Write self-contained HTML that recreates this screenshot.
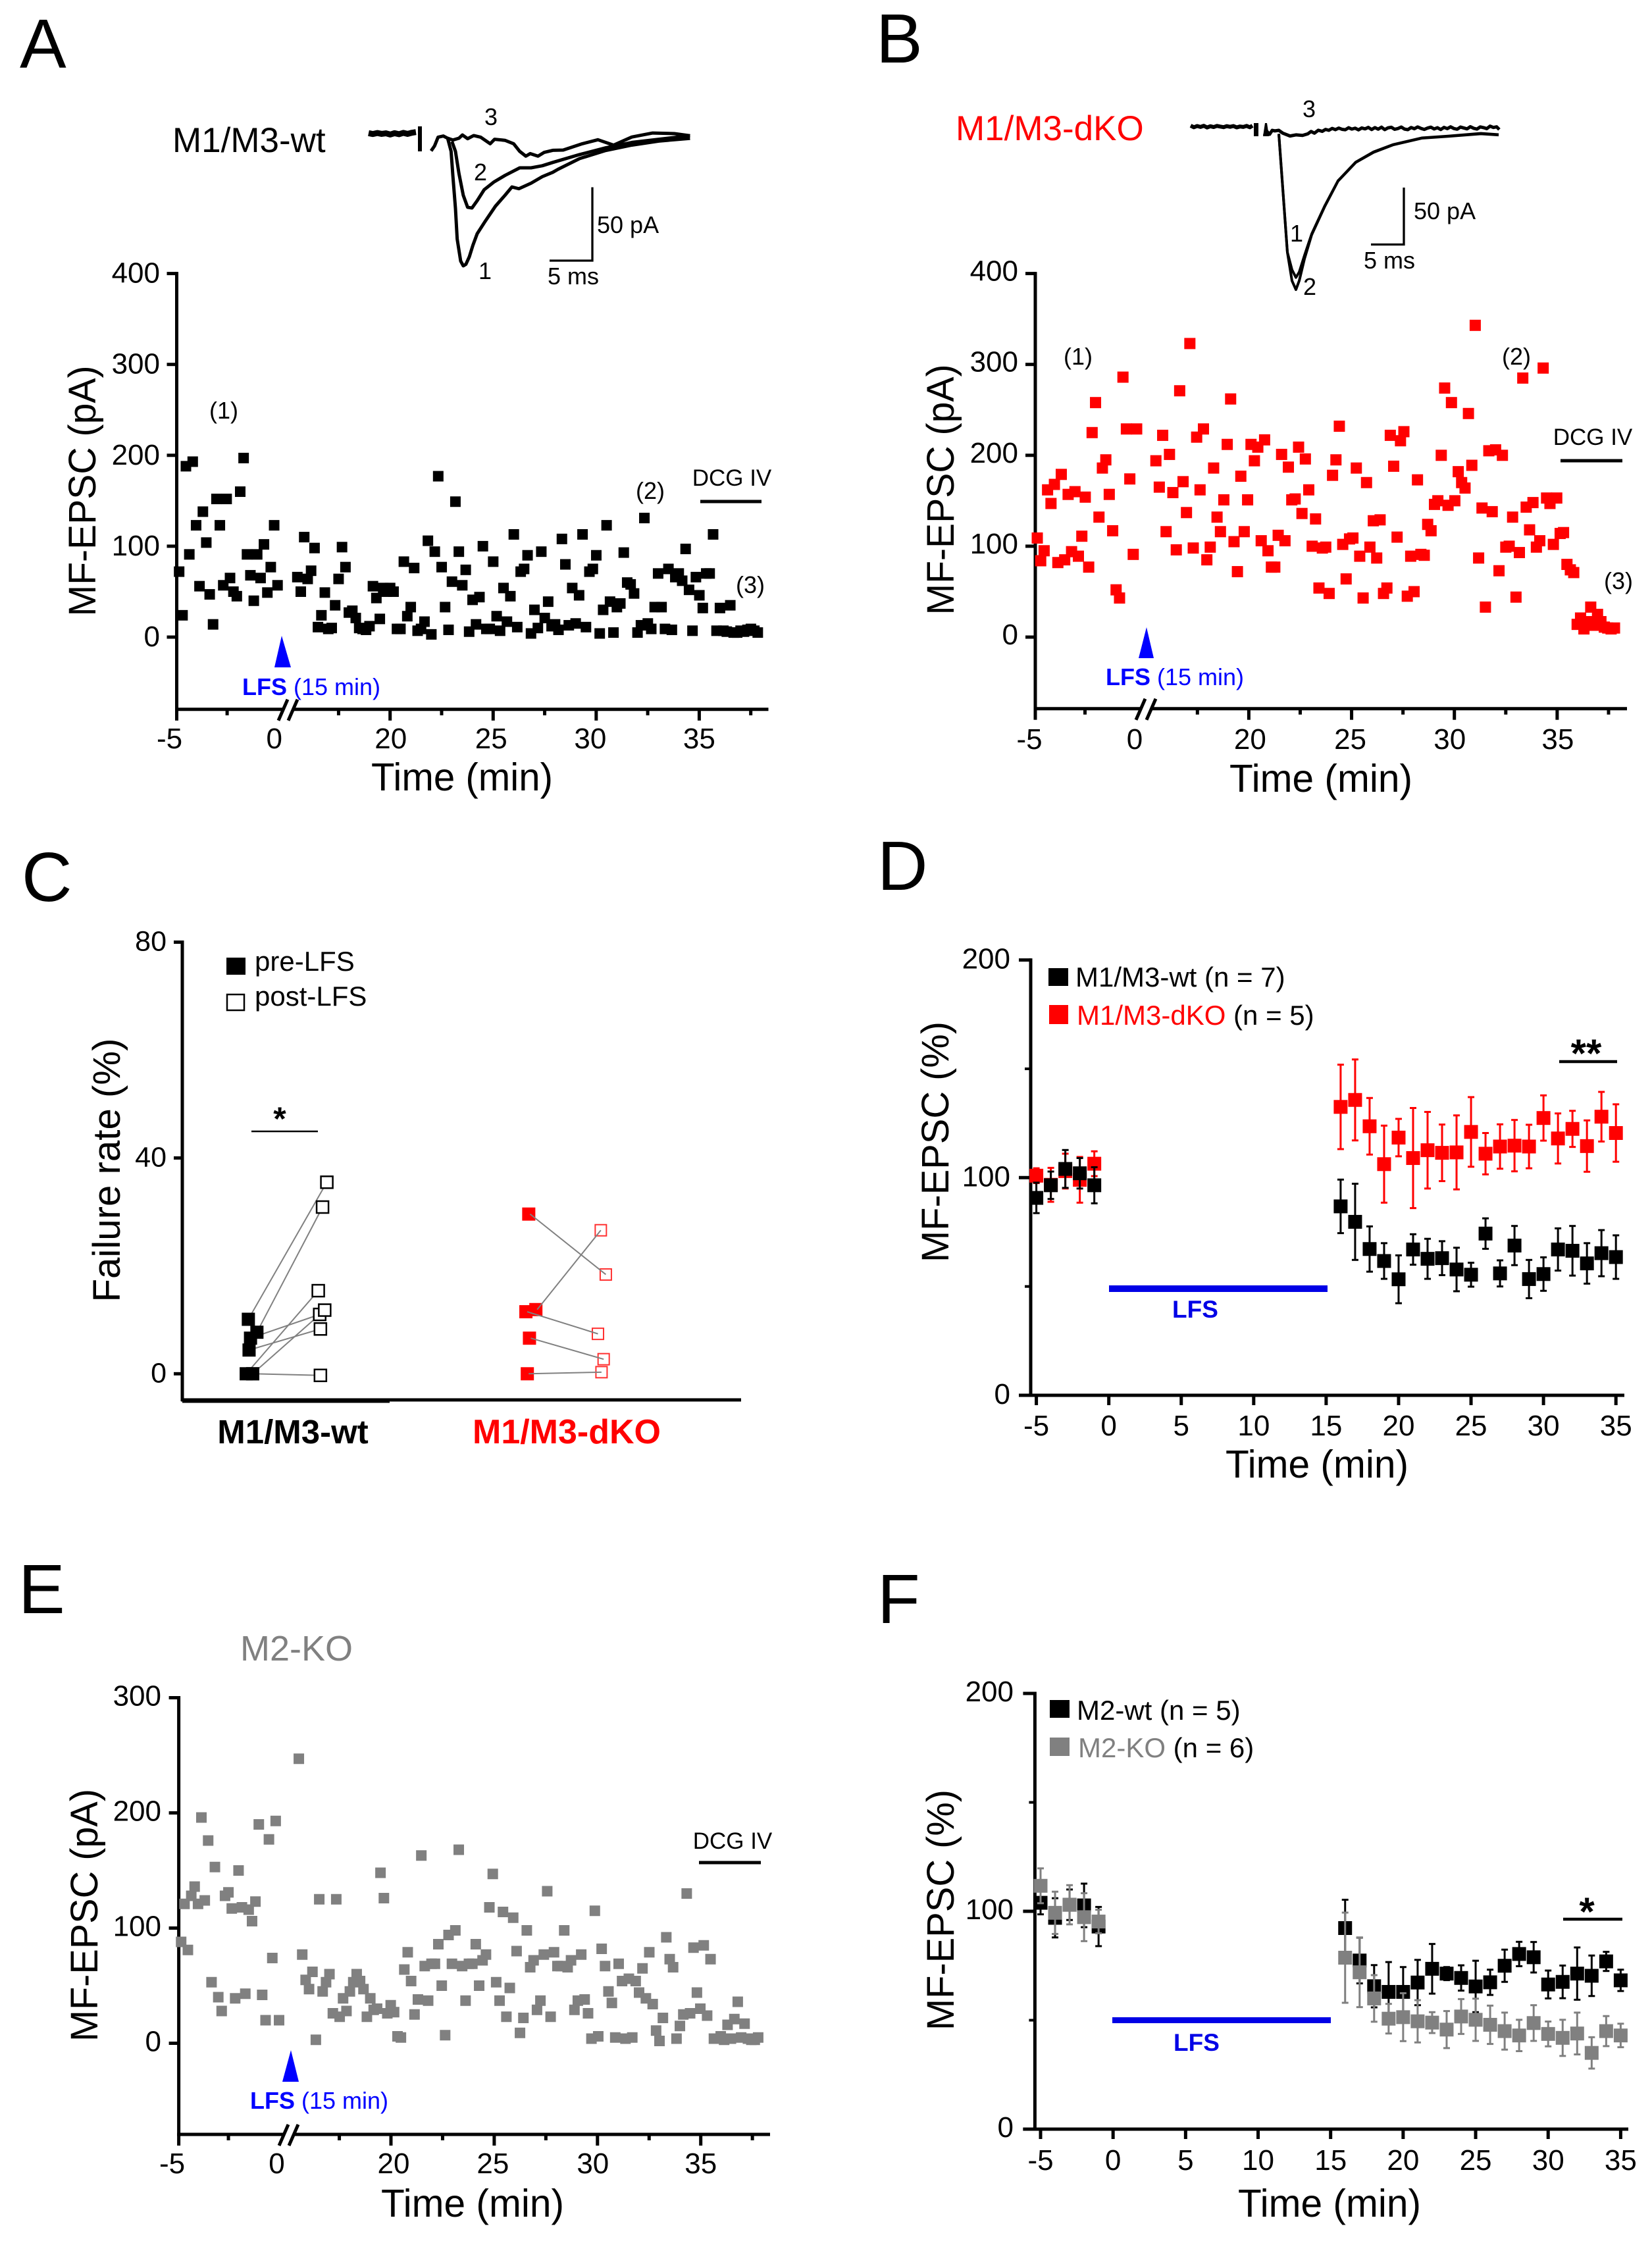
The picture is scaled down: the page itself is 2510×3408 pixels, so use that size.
<!DOCTYPE html>
<html lang="en">
<head>
<meta charset="utf-8">
<title>MF-EPSC figure</title>
<style>
html,body{margin:0;padding:0;background:#fff;}
svg{display:block;}
text{font-family:"Liberation Sans",Arial,sans-serif;fill:#000;}
</style>
</head>
<body>
<svg id="fig" xmlns="http://www.w3.org/2000/svg" width="2510" height="3408" viewBox="0 0 2510 3408">
<rect width="2510" height="3408" fill="#fff"/>

<g id="panel-a">
<text x="30" y="103" font-size="106">A</text>
<text x="262" y="231" font-size="53">M1/M3-wt</text>
<line x1="638" y1="192" x2="638" y2="230" stroke="#000" stroke-width="6"/>
<text x="746" y="190" font-size="36" text-anchor="middle">3</text>
<text x="730" y="274" font-size="36" text-anchor="middle">2</text>
<text x="737" y="424" font-size="36" text-anchor="middle">1</text>
<path d="M835 396H900V284.5" fill="none" stroke="#000" stroke-width="3.3"/>
<text x="907" y="354" font-size="36">50 pA</text>
<text x="871" y="432" font-size="36" text-anchor="middle">5 ms</text>
<text transform="translate(145,746) rotate(-90)" font-size="58" text-anchor="middle" textLength="381" lengthAdjust="spacingAndGlyphs">MF-EPSC (pA)</text>
<text x="702" y="1201" font-size="59" text-anchor="middle" textLength="276" lengthAdjust="spacingAndGlyphs">Time (min)</text>
<text x="340" y="636" font-size="36" text-anchor="middle">(1)</text>
<text x="988" y="758" font-size="36" text-anchor="middle">(2)</text>
<text x="1140" y="901" font-size="36" text-anchor="middle">(3)</text>
<text x="1112" y="738" font-size="35" text-anchor="middle">DCG IV</text>
<line x1="1064" y1="762" x2="1157" y2="762" stroke="#000" stroke-width="5"/>
<polygon points="428,966 417,1014 442,1014" fill="#0000ff"/>
<text x="368" y="1056" font-size="36" style="fill:#0000ff"><tspan font-weight="bold" style="fill:#0000ff">LFS</tspan> (15 min)</text>
</g>

<g id="panel-b">
<text x="1331" y="95" font-size="106">B</text>
<text x="1452" y="213" font-size="53" style="fill:#ff0000">M1/M3-dKO</text>
<rect x="1905" y="187" width="7" height="20" fill="#000"/>
<polygon points="1919,207 1922,187 1925,187 1928,207" fill="#000"/>
<text x="1989" y="178" font-size="36" text-anchor="middle">3</text>
<text x="1970" y="367" font-size="36" text-anchor="middle">1</text>
<text x="1990" y="448" font-size="36" text-anchor="middle">2</text>
<path d="M2083 371.5H2133V285" fill="none" stroke="#000" stroke-width="3.3"/>
<text x="2148" y="333" font-size="36">50 pA</text>
<text x="2111" y="408" font-size="36" text-anchor="middle">5 ms</text>
<text transform="translate(1449,744) rotate(-90)" font-size="58" text-anchor="middle" textLength="381" lengthAdjust="spacingAndGlyphs">MF-EPSC (pA)</text>
<text x="2007" y="1203" font-size="59" text-anchor="middle" textLength="278" lengthAdjust="spacingAndGlyphs">Time (min)</text>
<text x="1638" y="554" font-size="36" text-anchor="middle">(1)</text>
<text x="2304" y="554" font-size="36" text-anchor="middle">(2)</text>
<text x="2459" y="895" font-size="36" text-anchor="middle">(3)</text>
<text x="2420" y="676" font-size="35" text-anchor="middle">DCG IV</text>
<line x1="2371" y1="700" x2="2465" y2="700" stroke="#000" stroke-width="5"/>
<polygon points="1742,953 1730,1000 1753,1000" fill="#0000ff"/>
<text x="1680" y="1041" font-size="36" style="fill:#0000ff"><tspan font-weight="bold" style="fill:#0000ff">LFS</tspan> (15 min)</text>
</g>

<g id="panel-c">
<text x="33" y="1369" font-size="106">C</text>
<text transform="translate(182,1778) rotate(-90)" font-size="58" text-anchor="middle" textLength="401" lengthAdjust="spacingAndGlyphs">Failure rate (%)</text>
<rect x="344" y="1455" width="29" height="26" fill="#000"/>
<text x="387" y="1475" font-size="42">pre-LFS</text>
<rect x="345" y="1511" width="26" height="24" fill="#fff" stroke="#000" stroke-width="2.5"/>
<text x="387" y="1528" font-size="42">post-LFS</text>
<text x="425" y="1717" font-size="50" font-weight="bold" text-anchor="middle">*</text>
<line x1="382" y1="1719" x2="483" y2="1719" stroke="#000" stroke-width="2.5"/>
<text x="445" y="2193" font-size="51" font-weight="bold" text-anchor="middle">M1/M3-wt</text>
<text x="861" y="2193" font-size="52" font-weight="bold" text-anchor="middle" style="fill:#ff0000">M1/M3-dKO</text>
</g>

<g id="panel-d">
<text x="1333" y="1352" font-size="106">D</text>
<text transform="translate(1441,1735) rotate(-90)" font-size="58" text-anchor="middle" textLength="366" lengthAdjust="spacingAndGlyphs">MF-EPSC (%)</text>
<text x="2001" y="2245" font-size="59" text-anchor="middle" textLength="278" lengthAdjust="spacingAndGlyphs">Time (min)</text>
<rect x="1593" y="1471" width="30" height="27" fill="#000"/>
<text x="1634" y="1499" font-size="42">M1/M3-wt (n = 7)</text>
<rect x="1594" y="1527" width="29" height="29" fill="#ff0000"/>
<text x="1636" y="1557" font-size="42"><tspan style="fill:#ff0000">M1/M3-dKO</tspan> (n = 5)</text>
<text x="2410" y="1621" font-size="60" font-weight="bold" text-anchor="middle">**</text>
<line x1="2369" y1="1613" x2="2457" y2="1613" stroke="#000" stroke-width="4.5"/>
<rect x="1685" y="1953" width="332" height="10" fill="#0000e6"/>
<text x="1816" y="2002" font-size="37" font-weight="bold" text-anchor="middle" style="fill:#0000e6">LFS</text>
</g>

<g id="panel-e">
<text x="28" y="2451" font-size="106">E</text>
<text x="365" y="2523" font-size="54" style="fill:#808080">M2-KO</text>
<text transform="translate(148,2910) rotate(-90)" font-size="58" text-anchor="middle" textLength="384" lengthAdjust="spacingAndGlyphs">MF-EPSC (pA)</text>
<text x="718" y="3368" font-size="59" text-anchor="middle" textLength="278" lengthAdjust="spacingAndGlyphs">Time (min)</text>
<text x="1113" y="2809" font-size="35" text-anchor="middle">DCG IV</text>
<line x1="1062" y1="2830" x2="1156" y2="2830" stroke="#000" stroke-width="5"/>
<polygon points="442,3115 429,3163 454,3163" fill="#0000ff"/>
<text x="380" y="3204" font-size="36" style="fill:#0000ff"><tspan font-weight="bold" style="fill:#0000ff">LFS</tspan> (15 min)</text>
</g>

<g id="panel-f">
<text x="1333" y="2466" font-size="106">F</text>
<text transform="translate(1449,2902) rotate(-90)" font-size="58" text-anchor="middle" textLength="366" lengthAdjust="spacingAndGlyphs">MF-EPSC (%)</text>
<text x="2020" y="3368" font-size="59" text-anchor="middle" textLength="278" lengthAdjust="spacingAndGlyphs">Time (min)</text>
<rect x="1595" y="2583" width="30" height="27" fill="#000"/>
<text x="1636" y="2613" font-size="42">M2-wt (n = 5)</text>
<rect x="1595" y="2640" width="30" height="28" fill="#808080"/>
<text x="1638" y="2670" font-size="42"><tspan style="fill:#808080">M2-KO</tspan> (n = 6)</text>
<text x="2411" y="2925" font-size="60" font-weight="bold" text-anchor="middle">*</text>
<line x1="2375" y1="2916" x2="2465" y2="2916" stroke="#000" stroke-width="4.5"/>
<rect x="1690" y="3065" width="332" height="9" fill="#0000e6"/>
<text x="1818" y="3116" font-size="37" font-weight="bold" text-anchor="middle" style="fill:#0000e6">LFS</text>
</g>
</svg>

<script>
// ---------- Panel A data (pA) ----------
const aPreValues=[72,24,188,91,193,123,56,138,104,47,14,152,123,57,152,65,50,45,160,197,91,68,40,91,65,102,49,77,123,57];
const aPostValues=[66,50,110,64,73,98,11,24,49,9,10,35,64,99,77,27,29,21,10,9,8,12,56,43,20,54,50,54,50,9,9,83,23,33,76,7,9,17,106,3,94,177,77,33,8,61,149,94,57,74,6,41,14,44,100,9,9,83,23,7,54,17,45,113,11,72,75,90,4,30,10,94,21,39,12,14,8,108,80,13,54,15,46,113,11,72,75,90,4,30,123,39,5,33,37,93,60,58,48,5,13,131,15,9,33,70,33,9,75,8,66,70,62,97,52,7,66,46,32,70,70,113,7,32,7,6,35,5,5,7,6,8,9,7,5];
const aPreSpan=[-4.88,0];
const aPostSpan=[15.5,37.84];
const aTrace1Ms=[7.2,7.6,8,8.6,9.1,9.5,9.7,10,10.2,10.6,10.9,11.2,11.6,12,12.5,13.4,14.6,15.7,16.5,17.3,18.7,20,21.2,21.8,24.3,27.3,30.3,33.4,37];
const aTrace1Pa=[-11.6,-8.2,-2.4,-1.6,-3.1,-11.9,-28,-50,-70.6,-85.3,-88.5,-87.5,-82.4,-74.9,-67,-58.9,-48.6,-41.3,-35.7,-36.9,-33.2,-28.8,-25.9,-23.9,-16.7,-11.3,-7.7,-5,-3.2];
const aTrace2Ms=[9.6,10,10.4,10.9,11.4,11.9,12.5,13.3,14.4,15.7,17.4,18.7,20,21.2,24.3,27.3,30.3,33.4,37];
const aTrace2Pa=[-5.3,-11.9,-26.6,-41.3,-49.3,-49.8,-44.9,-37.6,-32.5,-28,-22.9,-22.9,-21.5,-19.3,-14,-9.5,-5.9,-3.8,-1.4];
const aTrace3Ms=[9.1,9.7,10.4,10.8,11.4,12.1,12.9,14,14.5,15.7,16.7,17.4,18.1,18.6,19.5,20.2,21.2,22.4,24.6,26.4,28.2,30.3,32.7,35.2,37];
const aTrace3Pa=[-3.1,-4.3,-3.1,-0.9,-3.4,-1.3,-2.4,-6.8,-3.8,-4.5,-6.8,-11.9,-15.1,-13.4,-15.1,-12.6,-11.2,-11,-6.8,-4.1,-7.7,-2.3,0.4,0,-1.4];
const aBaseMs=[0,0.5,1,1.5,2,2.5,3,3.5,4,4.5,5,5.45];
const aBasePa=[0.3,-0.3,0.4,-0.2,0.2,-0.6,0.3,-0.4,0.5,-0.2,0.6,1];

// ---------- Panel B data (pA) ----------
const bPreValues=[109,84,95,162,147,168,82,179,85,157,94,160,89,111,154,77,225,258,132,186,195,157,117,52,43,286,229,174,91,229];
const bPostValues=[194,165,222,116,201,159,96,271,171,137,323,98,220,162,229,85,99,186,132,116,151,212,262,105,72,177,116,151,212,194,209,106,217,95,77,77,112,201,106,187,151,152,209,136,196,162,100,130,54,98,99,48,178,195,232,102,64,108,109,186,89,43,170,99,128,87,129,48,54,222,188,110,216,226,45,89,50,173,91,90,124,117,146,150,200,274,145,258,150,182,170,164,246,189,343,87,142,33,205,138,206,73,200,99,100,132,44,93,285,143,118,148,99,106,296,153,147,102,153,114,115,80,74,71,14,21,9,17,33,13,25,17,11,10,9,10];
const bPreSpan=[-4.9,0.1];
const bPostSpan=[15.48,37.79];
const bBigMs=[13.4,14.7,15.4,16,16.5,17.3,18.4,20.4,22.4,25.1,27.8,30.8,35.1,39.1,44.1,46.8];
const bBigPa=[-6.6,-111.2,-136.4,-144.2,-136.4,-117,-95.7,-70.5,-48.3,-31.8,-23,-16.3,-10.5,-8.9,-6.6,-7.6];
const bMidMs=[13.4,14.7,15.4,16,16.5,17.3,18.4,20.4,22.4,25.1,27.8,30.8,35.1,39.1,44.1,46.8];
const bMidPa=[-6.6,-111.2,-126.7,-133.5,-128.7,-114,-95,-70,-48,-31.5,-22.5,-16,-10.2,-8.6,-6.2,-7.3];
const bBaseMs=[0,0.5,1,1.5,2,2.5,3,3.5,4,4.5,5,5.5,6,6.5,7,7.5,8,8.5,9,9.4];
const bBasePa=[0.6,-0.8,0.3,-0.5,0.5,-1,0.1,-0.6,0.4,-0.2,-0.7,0.2,-0.4,0.3,-0.9,-0.1,-0.5,0.4,-0.8,0.6];
const bSmallMs=[11.2,11.6,12,12.4,12.8,13.4,14,15.1,16,17,17.8,18.3,18.8,19.4,20,20.5,21,21.5,22,22.5,23,23.5,24,24.5,25,25.5,26,26.5,27,27.5,28,28.5,29,29.5,30,30.5,31,31.5,32,32.5,33,33.5,34,34.5,35,35.5,36,36.5,37,37.5,38,38.5,39,39.5,40,40.5,41,41.5,42,42.5,43,43.5,44,44.5,45,45.5,46,46.5,46.9];
const bSmallPa=[-8,-4.5,-7,-3.5,-4,-3.5,-6,-8.5,-7.5,-8,-6.6,-4.5,-6,-3.4,-4.4,-2.7,-3.5,-1.8,-2.9,-1.5,-2.6,-3,-1.2,-2.4,-1.6,-3.1,-1.4,-2.2,-0.9,-2.8,-1.1,-2.5,-0.7,-2.9,-1.3,-0.8,-2.6,-1.9,-0.6,-2.4,-2.9,-1,-2.1,-0.5,-1.8,-2.7,-1.5,-0.7,-2.3,-1.2,-2.8,-0.9,-2,-0.4,-1.9,-2.5,-0.6,-1.4,-2.2,-0.3,-1.7,-2.4,-0.5,-1.1,-2,0.2,-1,-0.4,-2.8];

// ---------- Panel C data (%) ----------
const cCategoryPositions=[1,2,5,6];
const cWtPre=[10.1,7.7,6.6,4.4,0,0,0];
const cWtPreJitter=[0.97,1.09,1.0,0.98,0.94,1.03,1.03];
const cWtPost=[35.5,30.9,11,8.3,15.4,11.8,-0.3];
const cWtPostJitter=[2.07,2.01,1.97,1.98,1.95,2.04,1.98];
const cKoPre=[29.6,11.9,11.5,6.6,0];
const cKoPreJitter=[4.9,5,4.86,4.91,4.88];
const cKoPost=[18.4,26.6,7.4,2.7,0.3];
const cKoPostJitter=[5.98,5.91,5.87,5.95,5.92];
const cYTicks=[0,40,80];

// ---------- Panel D data (%) ----------
const dTimes=[-5,-4,-3,-2,-1,16,17,18,19,20,21,22,23,24,25,26,27,28,29,30,31,32,33,34,35];
const dWtMean=[90.7,96.5,104,102,96.5,86.8,79.7,67.2,61.7,53.3,67,62.7,63,57.8,55.4,74.3,56,68.8,53.4,55.7,67,66.4,60.6,65.3,63.5];
const dWtErr=[7,6.3,8.7,7,8.3,12.3,17.5,10.4,8.2,11,7,9.2,7.8,10,5.5,7,6,9,8.8,7.7,9.7,11.4,9.3,10.6,10];
const dKoMean=[100.9,96.7,103,99,106.4,132.5,135.7,123.6,106.2,118.4,109,112.6,111.4,111.6,121,111,114.3,114.7,114.3,127.4,118,122.4,114.5,128,120.5];
const dKoErr=[3.4,7.8,8,10.5,5.7,19.4,18.6,13,17.7,8.6,23,17.6,13,17,16,9.5,10.2,11.8,10,10.4,11.5,8.3,11.8,11.4,13.2];

// ---------- Panel E data (pA) ----------
const ePreValues=[88,121,81,128,136,121,196,124,176,53,153,40,28,128,131,117,39,150,118,43,116,106,123,190,42,20,177,74,193,20];
const ePostValues=[247,77,55,47,62,3,125,45,53,60,26,125,23,39,28,45,53,60,54,47,23,39,29,30,148,126,26,33,27,6,5,64,79,54,25,38,163,67,37,69,69,86,50,7,94,69,98,168,67,37,69,69,86,50,72,77,118,147,53,37,114,23,48,109,80,9,22,98,66,72,29,37,77,132,23,79,67,67,98,66,72,29,37,77,38,26,4,115,6,82,67,45,35,5,69,54,4,56,5,54,44,65,39,79,34,11,2,22,92,73,66,4,15,25,130,26,83,44,30,85,24,73,4,4,6,3,16,4,21,36,5,17,4,3,3,5];
const ePreSpan=[-4.88,0.05];
const ePostSpan=[15.54,37.78];

// ---------- Panel F data (%) ----------
const fTimes=[-5,-4,-3,-2,-1,16,17,18,19,20,21,22,23,24,25,26,27,28,29,30,31,32,33,34,35];
const fWtMean=[103.9,97,103,102.7,93,92.3,77.4,65.6,63,63,67.3,73.6,71.4,69.4,65.5,67.4,75,80.4,78.9,66.4,67.6,71.4,70.4,77,68.3];
const fWtErr=[5.3,9,7,10,9,13,10.5,9.7,13.7,11.4,10.4,11.4,3,5.8,11.8,5.8,7.4,5.6,7,6.4,7.5,12,9.3,4.4,4.9];
const fKoMean=[111.7,99.3,103,97.3,95.3,78.7,72,60,50.7,51.4,49.5,48.9,45.7,51.7,50.2,47.9,45,43,48.7,43.7,41.9,43.9,35,45,43];
const fKoErr=[8,9.7,9,11,5.4,20.7,16,10.7,6.8,11,9.7,4.8,8.5,8,9.7,8.8,8.5,7.2,8.2,5.7,8.3,9.6,7.2,6.9,5.4];

// ---------- Axis tick values and labels ----------
const pa400Ticks=[0,100,200,300,400];
const pa300Ticks=[0,100,200,300];
const pctMajorTicks=[0,100,200];
const pctMinorTicks=[50,150];
const brokenMajorTicks=[-5,20,25,30,35];
const brokenMinorTicks=[-2.5,17.5,22.5,27.5,32.5,37.5];
const brokenTickLabels=['-5','0','20','25','30','35'];
const brokenTickLabelTimes=[-5,0,20,25,30,35];
const linearTicks=[-5,0,5,10,15,20,25,30,35];

// ---------- Helpers ----------
const NS='http://www.w3.org/2000/svg';
const AXIS_W=5;
function mk(parent,tag,attrs,name){
  const el=document.createElementNS(NS,tag);
  for(const k in attrs){el.setAttribute(k,attrs[k]);}
  
  
  parent.appendChild(el);
  return el;
}
function line(p,x1,y1,x2,y2,stroke,w,name){return mk(p,'line',{x1:x1,y1:y1,x2:x2,y2:y2,stroke:stroke,'stroke-width':w},name);}
function square(p,cx,cy,s,fill,name,stroke,sw){
  return mk(p,'rect',{x:cx-s/2,y:cy-s/2,width:s,height:s,fill:fill,stroke:stroke||'none','stroke-width':sw||0},name);
}
function txt(p,x,y,str,size,anchor,name){
  const el=mk(p,'text',{x:x,y:y,'font-size':size,'text-anchor':anchor},name);
  el.textContent=str;
  return el;
}
function linear(d0,r0,d1,r1){return v=>r0+(v-d0)*(r1-r0)/(d1-d0);}
function brokenScale(xm5,x0,x20,x35){
  return t=>t<=7.5?xm5+(t+5)*(x0-xm5)/5:x20+(t-20)*(x35-x20)/15;
}
function trace(p,msArr,paArr,xS,yS,w,name){
  const pts=msArr.map((m,i)=>xS(m)+','+yS(paArr[i])).join(' ');
  return mk(p,'polyline',{points:pts,fill:'none',stroke:'#000','stroke-width':w,'stroke-linejoin':'round'},name);
}
function scatter(p,values,span,xS,yS,size,fill,name){
  const step=(span[1]-span[0])/(values.length-1);
  values.forEach((v,i)=>{
    square(p,xS(span[0]+i*step),yS(v),size,fill,name);
  });
}
function yAxisDraw(p,cfg){
  line(p,cfg.x,cfg.top-2.5,cfg.x,cfg.bottom+2.5,'#000',AXIS_W,'y-axis-line');
  cfg.ticks.forEach(v=>{
    line(p,cfg.x-cfg.major,cfg.y(v),cfg.x,cfg.y(v),'#000',AXIS_W,'y-axis-tick');
    txt(p,cfg.labelRight,cfg.y(v)+cfg.labelDy,String(v),44,'end','y-tick-label');
  });
  (cfg.minor||[]).forEach(v=>{
    line(p,cfg.x-cfg.minorLen,cfg.y(v),cfg.x,cfg.y(v),'#000',4,'y-axis-minor-tick');
  });
}
function brokenXAxis(p,cfg){
  line(p,cfg.axisX-2.5,cfg.base,cfg.right,cfg.base,'#000',AXIS_W,'x-axis-line');
  brokenMajorTicks.forEach(t=>{
    line(p,cfg.x(t),cfg.base,cfg.x(t),cfg.base+17,'#000',AXIS_W,'x-axis-tick');
  });
  brokenMinorTicks.forEach(t=>{
    line(p,cfg.x(t),cfg.base,cfg.x(t),cfg.base+9,'#000',AXIS_W,'x-axis-minor-tick');
  });
  line(p,cfg.brk[0]+7,cfg.base,cfg.brk[0]+cfg.brk[1]+7,cfg.base,'#fff',7,'axis-break-gap');
  line(p,cfg.brk[0],cfg.base+17,cfg.brk[0]+14,cfg.base-15,'#000',AXIS_W,'axis-break-slash');
  line(p,cfg.brk[0]+cfg.brk[1],cfg.base+17,cfg.brk[0]+cfg.brk[1]+14,cfg.base-15,'#000',AXIS_W,'axis-break-slash');
  brokenTickLabels.forEach((lab,i)=>{
    txt(p,cfg.x(brokenTickLabelTimes[i])+cfg.nudge[i],cfg.labelY,lab,44,'middle','x-tick-label');
  });
}
function linearXAxis(p,cfg){
  line(p,cfg.axisX-cfg.majorY,cfg.base,cfg.right,cfg.base,'#000',AXIS_W,'x-axis-line');
  linearTicks.forEach(t=>{
    line(p,cfg.x(t),cfg.base,cfg.x(t),cfg.base+15,'#000',AXIS_W,'x-axis-tick');
    txt(p,cfg.x(t),cfg.labelY,String(t),44,'middle','x-tick-label');
  });
}
function errSeries(p,times,means,errs,xS,yS,color,series){
  times.forEach((t,i)=>{
    const X=xS(t),hi=yS(means[i]+errs[i]),lo=yS(means[i]-errs[i]);
    line(p,X,hi,X,lo,color,3,series+'-error-bar');
    line(p,X-5,hi,X+5,hi,color,3,series+'-error-cap');
    line(p,X-5,lo,X+5,lo,color,3,series+'-error-cap');
  });
  times.forEach((t,i)=>{
    square(p,xS(t),yS(means[i]),21,color,series+'-point');
  });
}

// ---------- Panel A ----------
(function(){
  const g=document.getElementById('panel-a');
  const tx=linear(0,560,5,626), ty=linear(0,203,-50,316.5);
  trace(g,aBaseMs,aBasePa,tx,ty,9,'trace-baseline');
  trace(g,aTrace1Ms,aTrace1Pa,tx,ty,5,'trace-1');
  trace(g,aTrace2Ms,aTrace2Pa,tx,ty,5,'trace-2');
  trace(g,aTrace3Ms,aTrace3Pa,tx,ty,5,'trace-3');
  const y=linear(0,968,400,415.6), x=brokenScale(268.5,421.7,592.7,1062.4);
  yAxisDraw(g,{x:268.5,top:415.6,bottom:1077.8,y:y,ticks:pa400Ticks,major:15,labelRight:243,labelDy:14});
  brokenXAxis(g,{axisX:268.5,base:1077.8,right:1167.5,x:x,labelY:1137,brk:[423,15],nudge:[-11,-5,1,-3,-9,0]});
  scatter(g,aPreValues,aPreSpan,x,y,16,'#000','scatter-point-pre');
  scatter(g,aPostValues,aPostSpan,x,y,16,'#000','scatter-point-post');
})();

// ---------- Panel B ----------
(function(){
  const g=document.getElementById('panel-b');
  const tx=linear(0,1809,5,1859), ty=linear(0,192,-50,278);
  trace(g,bBaseMs,bBasePa,tx,ty,6,'trace-baseline');
  trace(g,bBigMs,bBigPa,tx,ty,4,'trace-2');
  trace(g,bMidMs,bMidPa,tx,ty,4,'trace-1');
  trace(g,bSmallMs,bSmallPa,tx,ty,5,'trace-3');
  const y=linear(0,968,400,415.6), x=brokenScale(1573,1724,1897.4,2365.9);
  yAxisDraw(g,{x:1573,top:415.6,bottom:1076.7,y:y,ticks:pa400Ticks,major:15,labelRight:1547,labelDy:11});
  brokenXAxis(g,{axisX:1573,base:1076.7,right:2472,x:x,labelY:1138,brk:[1726,16],nudge:[-9,0,2,-2,-7,1]});
  scatter(g,bPreValues,bPreSpan,x,y,17,'#ff0000','scatter-point-pre');
  scatter(g,bPostValues,bPostSpan,x,y,17,'#ff0000','scatter-point-post');
})();

// ---------- Panel C ----------
(function(){
  const g=document.getElementById('panel-c');
  const y=linear(0,2087.3,80,1431.5);
  const x=linear(cCategoryPositions[0],380.6,cCategoryPositions[1],489);
  const axisBase=2127;
  line(g,277,1429,277,axisBase+2,'#000',AXIS_W,'y-axis-line');
  cYTicks.forEach(v=>{
    line(g,264,y(v),277,y(v),'#000',AXIS_W,'y-axis-tick');
    txt(g,253,y(v)+13,String(v),43,'end','y-tick-label');
  });
  line(g,275,axisBase,1126,axisBase,'#000',AXIS_W,'x-axis-line');
  line(g,277,axisBase+2,592,axisBase+2,'#000',AXIS_W,'x-axis-line-left-segment');
  cWtPre.forEach((v,i)=>{
    line(g,x(cWtPreJitter[i]),y(v),x(cWtPostJitter[i]),y(cWtPost[i]),'#808080',2,'pair-line-wt');
  });
  cWtPre.forEach((v,i)=>{
    square(g,x(cWtPreJitter[i]),y(v),20,'#000','wt-pre-point');
  });
  cWtPost.forEach((v,i)=>{
    square(g,x(cWtPostJitter[i]),y(v),18,'#fff','wt-post-point','#000',2.5);
  });
  cKoPre.forEach((v,i)=>{
    square(g,x(cKoPreJitter[i]),y(v),20,'#ff0000','dko-pre-point');
  });
  cKoPost.forEach((v,i)=>{
    square(g,x(cKoPostJitter[i]),y(v),17,'#fff','dko-post-point','#ff3030',2);
  });
  cKoPre.forEach((v,i)=>{
    line(g,x(cKoPreJitter[i])+2,y(v),x(cKoPostJitter[i]),y(cKoPost[i]),'#808080',2,'pair-line-dko');
  });
})();

// ---------- Panel D ----------
(function(){
  const g=document.getElementById('panel-d');
  const y=linear(0,2120,200,1458.6), x=linear(-5,1574.6,35,2455.2);
  yAxisDraw(g,{x:1566,top:1458.6,bottom:2120,y:y,ticks:pctMajorTicks,minor:pctMinorTicks,major:18,minorLen:9,labelRight:1535,labelDy:13});
  linearXAxis(g,{axisX:1566,majorY:18,base:2120,right:2468,x:x,labelY:2181});
  errSeries(g,dTimes,dKoMean,dKoErr,x,y,'#ff0000','dko');
  errSeries(g,dTimes,dWtMean,dWtErr,x,y,'#000000','wt');
})();

// ---------- Panel E ----------
(function(){
  const g=document.getElementById('panel-e');
  const y=linear(0,3104.5,300,2579.5), x=brokenScale(271.6,422.5,594,1064.7);
  yAxisDraw(g,{x:271.6,top:2579.5,bottom:3243,y:y,ticks:pa300Ticks,major:15,labelRight:245,labelDy:12});
  brokenXAxis(g,{axisX:271.6,base:3243,right:1170,x:x,labelY:3302,brk:[424,15],nudge:[-10,-2,4,-2,-7,0]});
  scatter(g,ePreValues,ePreSpan,x,y,16,'#808080','scatter-point-pre');
  scatter(g,ePostValues,ePostSpan,x,y,16,'#808080','scatter-point-post');
})();

// ---------- Panel F ----------
(function(){
  const g=document.getElementById('panel-f');
  const y=linear(0,3235,200,2573), x=linear(-5,1581,35,2462.4);
  yAxisDraw(g,{x:1572.4,top:2573,bottom:3235,y:y,ticks:pctMajorTicks,minor:pctMinorTicks,major:18,minorLen:9,labelRight:1540,labelDy:12});
  linearXAxis(g,{axisX:1572.4,majorY:18,base:3235,right:2474,x:x,labelY:3297});
  errSeries(g,fTimes,fWtMean,fWtErr,x,y,'#000000','wt');
  errSeries(g,fTimes,fKoMean,fKoErr,x,y,'#808080','ko');
})();
</script>
</body>
</html>
